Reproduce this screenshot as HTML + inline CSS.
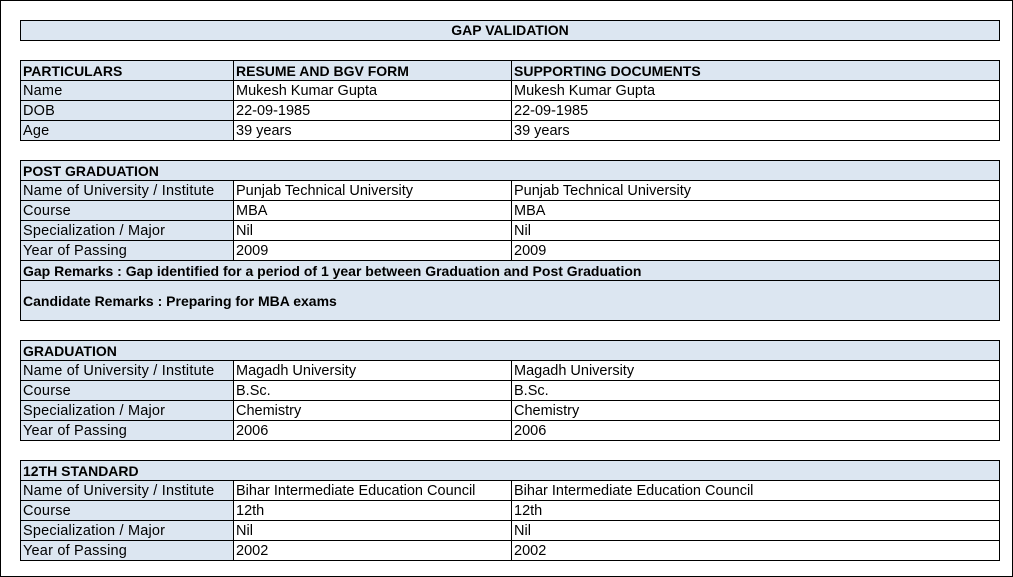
<!DOCTYPE html>
<html><head><meta charset="utf-8"><style>
*{margin:0;padding:0;box-sizing:border-box}
html,body{width:1013px;height:577px;overflow:hidden;background:#fff}
#frame{position:absolute;left:0;top:0;width:1013px;height:577px;border:1px solid #000}
table{position:absolute;left:20px;width:979px;border-collapse:collapse;table-layout:fixed;font-family:"Liberation Sans",sans-serif;font-size:14.5px;color:#000}
td{border:1px solid #000;height:20px;padding:0 0 0 2px;line-height:18px;white-space:nowrap;overflow:hidden;vertical-align:middle}
td.l{background:#dce6f1;letter-spacing:0.2px}
tr.h td{background:#dce6f1;font-weight:bold;font-size:14px}
.title{position:absolute;left:20px;top:20px;width:980px;height:21px;border:1px solid #000;background:#dce6f1;font-family:"Liberation Sans",sans-serif;font-size:14px;font-weight:bold;text-align:center;line-height:19px}
</style></head><body>
<div id="frame"></div>
<div class="title">GAP VALIDATION</div>
<table style="top:60px">
<colgroup><col style="width:213px"><col style="width:278px"><col style="width:488px"></colgroup>
<tr class="h"><td>PARTICULARS</td><td>RESUME AND BGV FORM</td><td>SUPPORTING DOCUMENTS</td></tr>
<tr><td class="l">Name</td><td>Mukesh Kumar Gupta</td><td>Mukesh Kumar Gupta</td></tr>
<tr><td class="l">DOB</td><td>22-09-1985</td><td>22-09-1985</td></tr>
<tr><td class="l">Age</td><td>39 years</td><td>39 years</td></tr>
</table>
<table style="top:160px">
<colgroup><col style="width:213px"><col style="width:278px"><col style="width:488px"></colgroup>
<tr class="h"><td colspan="3">POST GRADUATION</td></tr>
<tr><td class="l">Name of University / Institute</td><td>Punjab Technical University</td><td>Punjab Technical University</td></tr>
<tr><td class="l">Course</td><td>MBA</td><td>MBA</td></tr>
<tr><td class="l">Specialization / Major</td><td>Nil</td><td>Nil</td></tr>
<tr><td class="l">Year of Passing</td><td>2009</td><td>2009</td></tr>
<tr class="h"><td colspan="3">Gap Remarks : Gap identified for a period of 1 year between Graduation and Post Graduation</td></tr>
<tr class="h"><td colspan="3" style="height:40px">Candidate Remarks : Preparing for MBA exams</td></tr>
</table>
<table style="top:340px">
<colgroup><col style="width:213px"><col style="width:278px"><col style="width:488px"></colgroup>
<tr class="h"><td colspan="3">GRADUATION</td></tr>
<tr><td class="l">Name of University / Institute</td><td>Magadh University</td><td>Magadh University</td></tr>
<tr><td class="l">Course</td><td>B.Sc.</td><td>B.Sc.</td></tr>
<tr><td class="l">Specialization / Major</td><td>Chemistry</td><td>Chemistry</td></tr>
<tr><td class="l">Year of Passing</td><td>2006</td><td>2006</td></tr>
</table>
<table style="top:460px">
<colgroup><col style="width:213px"><col style="width:278px"><col style="width:488px"></colgroup>
<tr class="h"><td colspan="3">12TH STANDARD</td></tr>
<tr><td class="l">Name of University / Institute</td><td>Bihar Intermediate Education Council</td><td>Bihar Intermediate Education Council</td></tr>
<tr><td class="l">Course</td><td>12th</td><td>12th</td></tr>
<tr><td class="l">Specialization / Major</td><td>Nil</td><td>Nil</td></tr>
<tr><td class="l">Year of Passing</td><td>2002</td><td>2002</td></tr>
</table>
</body></html>
